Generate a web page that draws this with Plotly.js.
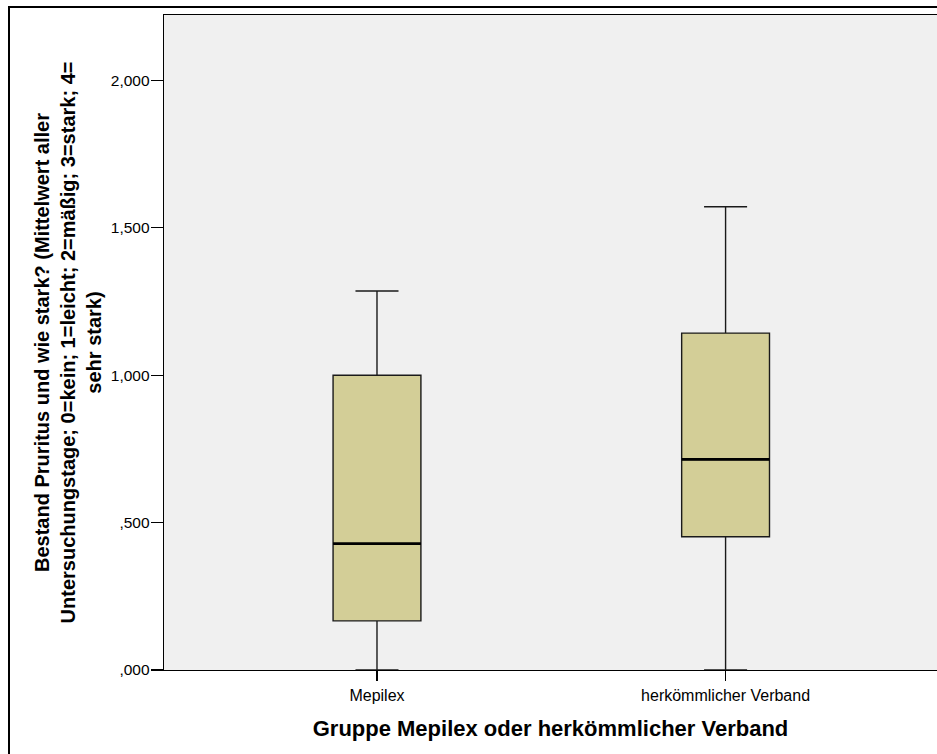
<!DOCTYPE html>
<html>
<head>
<meta charset="utf-8">
<script src="https://cdn.plot.ly/plotly-3.0.1.min.js"></script>
<style>
html,body{margin:0;padding:0;background:#fff;}
#chart{width:937px;height:754px;}
</style>
</head>
<body>
<div id="chart"></div>
<script>
// Data
const categories = ['Mepilex', 'herkömmlicher Verband'];
const lowerWhisker = [0.0, 0.0];
const q1Values = [0.1667, 0.452];
const medianValues = [0.4286, 0.7143];
const q3Values = [1.0, 1.1429];
const upperWhisker = [1.2857, 1.5714];
const yTickVals = [0, 0.5, 1.0, 1.5, 2.0];
const yTickText = [',000', ',500', '1,000', '1,500', '2,000'];

const boxWidth = 0.252;
const sans = 'Arial, "Liberation Sans", sans-serif';

const traces = [];
categories.forEach((c, i) => {
  traces.push({
    type: 'box',
    x: [i],
    q1: [q1Values[i]],
    median: [medianValues[i]],
    q3: [q3Values[i]],
    lowerfence: [lowerWhisker[i]],
    upperfence: [upperWhisker[i]],
    width: boxWidth,
    whiskerwidth: 0.49,
    fillcolor: '#d3ce97',
    line: {color: '#1a1a1a', width: 1.4},
    boxpoints: false,
    hoverinfo: 'skip',
    showlegend: false
  });
});
categories.forEach((c, i) => {
  traces.push({
    type: 'scatter',
    mode: 'lines',
    x: [i - boxWidth / 2, i + boxWidth / 2],
    y: [medianValues[i], medianValues[i]],
    line: {color: '#000', width: 2.8},
    hoverinfo: 'skip',
    showlegend: false
  });
});

const layout = {
  width: 937,
  height: 754,
  margin: {l: 164, r: 0, t: 15, b: 84},
  paper_bgcolor: '#ffffff',
  plot_bgcolor: '#f0f0f0',
  showlegend: false,
  font: {family: sans, color: '#000'},
  xaxis: {
    type: 'linear',
    range: [-0.611, 1.6065],
    tickvals: [0, 1],
    ticktext: categories,
    showgrid: false,
    zeroline: false,
    showline: true,
    linecolor: '#000',
    linewidth: 1.3,
    mirror: true,
    ticks: 'outside',
    ticklen: 10,
    tickwidth: 1.3,
    tickcolor: '#000',
    tickfont: {family: sans, size: 16, color: '#000'},
    title: {
      text: 'Gruppe Mepilex oder herkömmlicher Verband',
      font: {family: sans, size: 22, color: '#000', weight: 'bold'},
      standoff: 18
    }
  },
  yaxis: {
    range: [0, 2.222],
    tickvals: yTickVals,
    ticktext: yTickText,
    showgrid: false,
    zeroline: false,
    showline: true,
    linecolor: '#000',
    linewidth: 1.3,
    ticks: 'outside',
    ticklen: 12,
    tickwidth: 1.3,
    tickcolor: '#000',
    ticklabelstandoff: -2,
    tickfont: {family: sans, size: 15.5, color: '#000'},
    title: {
      text: 'Bestand Pruritus und wie stark? (Mittelwert aller<br>Untersuchungstage; 0=kein; 1=leicht; 2=mäßig; 3=stark; 4=<br>sehr stark)',
      font: {family: sans, size: 20, color: '#000', weight: 'bold'},
      standoff: 3
    }
  },
  shapes: [{
    type: 'rect',
    xref: 'paper', yref: 'paper',
    x0: (9 - 164) / 773, x1: 1.05,
    y0: -0.2, y1: (670 - 7) / 655,
    line: {color: '#000', width: 2},
    fillcolor: 'rgba(0,0,0,0)',
    layer: 'above'
  }]
};

Plotly.newPlot('chart', traces, layout, {displayModeBar: false, staticPlot: true});
</script>
</body>
</html>
